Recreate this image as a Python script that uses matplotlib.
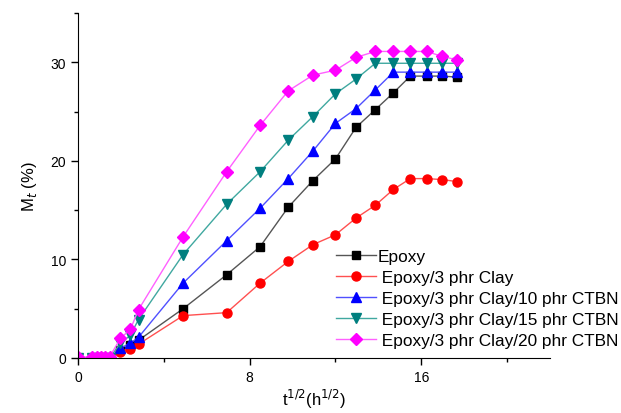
import matplotlib
matplotlib.use("Agg")
import matplotlib.pyplot as plt
from matplotlib.ticker import MultipleLocator

plt.rcParams['font.family'] = ['Liberation Sans', 'DejaVu Sans']

# t^1/2 (h^1/2)
t = [0, 0.65, 0.87, 1.07, 1.27, 1.47, 1.98, 2.44, 2.82, 4.9, 6.93, 8.49,
     9.8, 10.95, 12.0, 12.96, 13.86, 14.7, 15.49, 16.25, 16.97, 17.66]

epoxy = [0, 0, 0, 0, 0, 0, 0.8, 1.3, 1.8, 5.0, 8.45, 11.3,
         15.3, 18.0, 20.2, 23.4, 25.2, 26.9, 28.6, 28.6, 28.6, 28.5]
clay = [0, 0, 0, 0, 0, 0, 0.6, 0.9, 1.4, 4.3, 4.6, 7.6,
        9.8, 11.5, 12.5, 14.2, 15.5, 17.1, 18.2, 18.2, 18.1, 17.9]
ctbn10 = [0, 0, 0, 0, 0, 0, 1.0, 1.5, 2.1, 7.6, 11.9, 15.2,
          18.2, 21.0, 23.8, 25.3, 27.2, 29.0, 29.0, 29.0, 29.0, 29.0]
ctbn15 = [0, 0, 0, 0, 0, 0, 1.5, 2.3, 3.9, 10.5, 15.6, 18.9,
          22.1, 24.5, 26.8, 28.3, 29.9, 29.9, 29.9, 29.9, 29.9, 29.9]
ctbn20 = [0.1, 0.1, 0.1, 0.1, 0.1, 0.1, 2.0, 2.9, 4.9, 12.3, 18.9, 23.6,
          27.1, 28.7, 29.2, 30.5, 31.1, 31.1, 31.1, 31.1, 30.6, 30.25]

fig = plt.figure(figsize=(6.21, 4.14), dpi=100)
ax = fig.add_axes([78/621, 55/414, 472/621, 345/414])

ax.plot(t, epoxy, '-s', color='#555555', mfc='black', mec='black', ms=5.5, lw=1, label='Epoxy')
ax.plot(t, clay, '-o', color='#ff5050', mfc='red', mec='red', ms=6.5, lw=1, label=' Epoxy/3 phr Clay')
ax.plot(t, ctbn10, '-^', color='#5050ff', mfc='blue', mec='blue', ms=7, lw=1, label=' Epoxy/3 phr Clay/10 phr CTBN')
ax.plot(t, ctbn15, '-v', color='#40a8a0', mfc='#007f7f', mec='#007f7f', ms=7, lw=1, label=' Epoxy/3 phr Clay/15 phr CTBN')
ax.plot(t, ctbn20, '-D', color='#ff60ff', mfc='#ff00ff', mec='#ff00ff', ms=6, lw=1, label=' Epoxy/3 phr Clay/20 phr CTBN')

ax.set_xlim(0, 22)
ax.set_ylim(0, 35)
ax.xaxis.set_major_locator(MultipleLocator(8))
ax.xaxis.set_minor_locator(MultipleLocator(4))
ax.yaxis.set_major_locator(MultipleLocator(10))
ax.yaxis.set_minor_locator(MultipleLocator(5))
ax.tick_params(which='major', direction='out', length=5, width=1, labelsize=10)
ax.tick_params(which='minor', direction='out', length=3, width=1)
ax.spines['top'].set_visible(False)
ax.spines['right'].set_visible(False)
ax.set_xlabel('t$^{1/2}$(h$^{1/2}$)', fontsize=12, labelpad=2)
ax.set_ylabel('M$_t$ (%)', fontsize=12, labelpad=8)

fig.legend(loc='upper left', bbox_to_anchor=(336/621, 1 - 250/414), frameon=False,
           fontsize=12.4, handlelength=2.3, handletextpad=0.1, labelspacing=0.35,
           borderpad=0, borderaxespad=0)

fig.savefig('out.png', dpi=100)
